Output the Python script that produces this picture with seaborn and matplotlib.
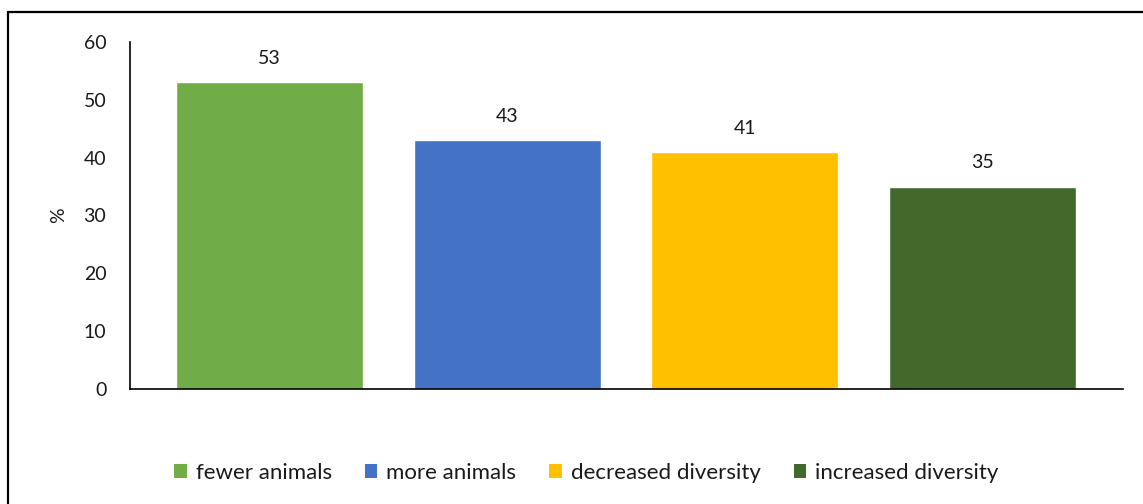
import matplotlib
matplotlib.use("Agg")
import matplotlib.pyplot as plt
import seaborn as sns
import pandas as pd
from matplotlib.patches import Patch
from matplotlib.lines import Line2D

# -----------------------------
# DATA
# -----------------------------
categories = ["fewer animals", "more animals", "decreased diversity", "increased diversity"]
values = [53, 43, 41, 35]
colors = ["#70AD47", "#4472C4", "#FFC000", "#43682B"]
y_ticks = [0, 10, 20, 30, 40, 50, 60]

df = pd.DataFrame({"category": categories, "value": values})

# -----------------------------
# PLOT
# -----------------------------
sns.set_style("white")
plt.rcParams["font.family"] = ["Lato", "DejaVu Sans"]

fig = plt.figure(figsize=(11.43, 5.04), dpi=100)
ax = fig.add_axes([0.1137, 0.2282, 0.9825 - 0.1137, 0.9167 - 0.2282])

sns.barplot(data=df, x="category", y="value", hue="category",
            palette=colors, width=0.787, dodge=False, legend=False,
            saturation=1, ax=ax)

for c in ax.containers:
    ax.bar_label(c, padding=11, fontsize=14, color="#1a1a1a")

ax.set_ylim(0, 60)
ax.set_yticks(y_ticks)
ax.set_xlim(-0.587, 3.591)
ax.set_xticks([-0.587, 3.591])
ax.set_xticklabels(["", ""])
ax.tick_params(axis="x", length=5.5, width=1.2, color="black", direction="out")
ax.tick_params(axis="y", length=0, pad=17, labelsize=14, labelcolor="#1a1a1a")
ax.set_xlabel("")
ax.set_ylabel("%", fontsize=14, labelpad=12, color="#1a1a1a")

for side in ["top", "right"]:
    ax.spines[side].set_visible(False)
for side in ["left", "bottom"]:
    ax.spines[side].set_color("black")
    ax.spines[side].set_linewidth(1.2)

handles = [Patch(facecolor=col, edgecolor="none") for col in colors]
fig.legend(handles, categories, loc="center", bbox_to_anchor=(0.513, 1 - 473 / 504),
           ncol=4, frameon=False, fontsize=16, handlelength=0.55, handleheight=0.55,
           handletextpad=0.4, columnspacing=1.5, labelcolor="#1a1a1a")

# outer frame (left and top edges visible in crop)
fig.add_artist(Line2D([8 / 1143, 8 / 1143], [0, 1 - 12 / 504], transform=fig.transFigure,
                      color="black", lw=1.6))
fig.add_artist(Line2D([8 / 1143, 1], [1 - 12 / 504, 1 - 12 / 504], transform=fig.transFigure,
                      color="black", lw=1.6))

plt.savefig("out.png", dpi=100)
